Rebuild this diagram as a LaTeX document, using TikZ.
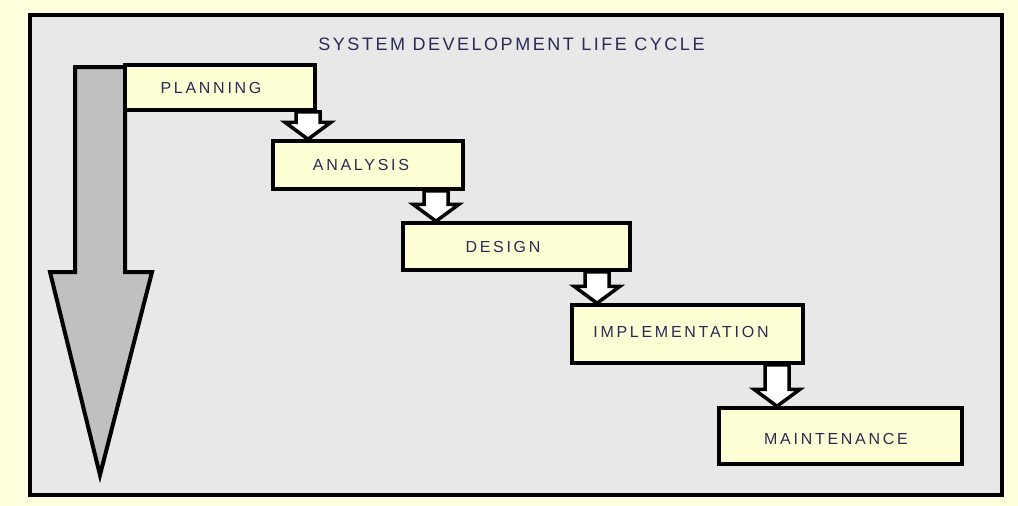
\documentclass[tikz,border=0pt]{standalone}
\usepackage{fontspec}
\setmainfont{Liberation Sans}
\newfontfamily\lblfont[LetterSpace=17]{Liberation Sans}
\newfontfamily\ttlfont[LetterSpace=14]{Liberation Sans}
\usetikzlibrary{calc}
\definecolor{bgyellow}{HTML}{FFFFDD}
\definecolor{panel}{HTML}{E8E8E8}
\definecolor{boxfill}{HTML}{FFFFD6}
\definecolor{bigarrow}{HTML}{C0C0C0}
\definecolor{txt}{HTML}{2A2A55}
\tikzset{
  stagebox/.style={draw=black, line width=3.5pt, fill=boxfill, inner sep=0pt, minimum width=#1},
  lbl/.style={font=\lblfont\fontsize{16}{18}\selectfont, text=txt, inner sep=0pt},
  ttl/.style={font=\ttlfont\fontsize{18}{20}\selectfont, text=txt, inner sep=0pt},
  flowarr/.style={draw=black, line width=3.5pt, fill=white, line join=miter},
  bigarr/.style={draw=black, line width=4pt, fill=bigarrow, line join=miter},
  framebox/.style={draw=black, line width=4pt, fill=panel}
}
\newcommand\flowarrow[3]{%
  \draw[flowarr] (#3-12,0 |- #1.south)
    -- ($(#3-12,0 |- #2.north)+(0,-17)$)
    -- ($(#3-23,0 |- #2.north)+(0,-17)$)
    -- (#3,0 |- #2.north)
    -- ($(#3+23,0 |- #2.north)+(0,-17)$)
    -- ($(#3+12,0 |- #2.north)+(0,-17)$)
    -- (#3+12,0 |- #1.south) -- cycle;}
\begin{document}
\begin{tikzpicture}[x=1pt,y=-1pt]
  \fill[bgyellow] (0,0) rectangle (1018,506);
  \useasboundingbox (0,0) rectangle (1018,506);
  \draw[framebox] (30,15) rectangle (1002,495);
  \node[ttl] (title) at (511.5,44) {SYSTEM DEVELOPMENT LIFE CYCLE};
  % big downward arrow
  \draw[bigarr] (75,67) -- (75,272) -- (50,272) -- (100,475) -- (152,272) -- (125,272) -- (125,67) -- cycle;
  % stage boxes
  \node[stagebox=190pt, minimum height=45pt] (planning) at (220,87.5) {};
  \node[stagebox=190pt, minimum height=48pt] (analysis) at (368,165) {};
  \node[stagebox=227pt, minimum height=47pt] (design) at (516.5,246.5) {};
  \node[stagebox=231pt, minimum height=58pt] (implementation) at (687.5,334) {};
  \node[stagebox=243pt, minimum height=56pt] (maintenance) at (840.5,436) {};
  % labels
  \node[lbl] (planningtext) at (211,88) {PLANNING};
  \node[lbl] (analysistext) at (361,165) {ANALYSIS};
  \node[lbl] (designtext) at (503,247) {DESIGN};
  \node[lbl] (implementationtext) at (681,332) {IMPLEMENTATION};
  \node[lbl] (maintenancetext) at (836,439) {MAINTENANCE};
  % flow arrows
  \flowarrow{planning}{analysis}{308}
  \flowarrow{analysis}{design}{436}
  \flowarrow{design}{implementation}{597}
  \flowarrow{implementation}{maintenance}{777}
\end{tikzpicture}
\end{document}
